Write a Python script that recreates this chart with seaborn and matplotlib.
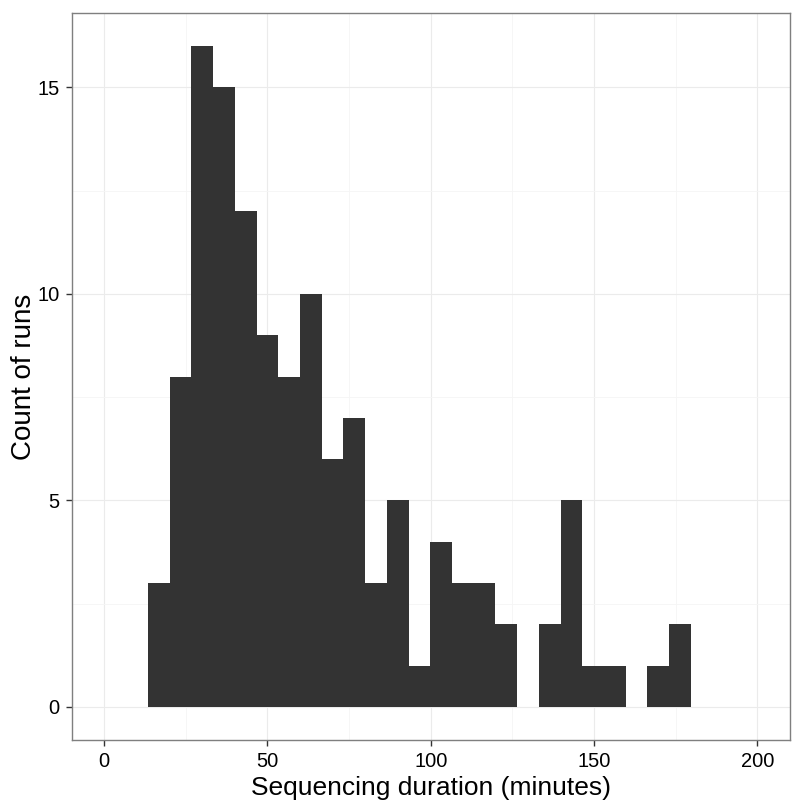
import numpy as np
import pandas as pd
import matplotlib
matplotlib.use("Agg")
import matplotlib.pyplot as plt
import seaborn as sns
from matplotlib.ticker import MultipleLocator

# Data
bin_start = 13.4          # minutes, left edge of the first bin
bin_width = 6.65          # minutes
counts = [3, 8, 16, 15, 12, 9, 8, 10, 6, 7, 3, 5, 1, 4, 3, 3, 2, 0, 2, 5, 1, 1, 0, 1, 2]
x_ticks = [0, 50, 100, 150, 200]
y_ticks = [0, 5, 10, 15]
x_label = "Sequencing duration (minutes)"
y_label = "Count of runs"

edges = [float(e) for e in bin_start + bin_width * np.arange(len(counts) + 1)]
centers = [(a + b) / 2 for a, b in zip(edges[:-1], edges[1:])]
df = pd.DataFrame({"duration": centers, "runs": counts})

sns.set_theme(style="white")
plt.rcParams["font.family"] = ["Liberation Sans", "DejaVu Sans"]

fig = plt.figure(figsize=(8, 8.05), dpi=100)
ax = fig.add_axes([71.5 / 800, 65 / 805, (790 - 71.5) / 800, (740 - 13) / 805])

sns.histplot(data=df, x="duration", weights="runs", bins=edges, ax=ax,
             color="#333333", alpha=1, linewidth=0, edgecolor="none", zorder=3)

ax.set_xlim(-10, 210)
ax.set_ylim(-0.8, 16.8)
ax.set_xticks(x_ticks)
ax.set_yticks(y_ticks)
ax.xaxis.set_minor_locator(MultipleLocator(25))
ax.yaxis.set_minor_locator(MultipleLocator(2.5))
ax.grid(which="major", color="#EBEBEB", linewidth=0.8, zorder=0)
ax.grid(which="minor", color="#F5F5F5", linewidth=0.6, zorder=0)
ax.set_axisbelow(True)

for s in ax.spines.values():
    s.set_color("#7F7F7F")
    s.set_linewidth(1.0)

ax.tick_params(which="major", length=4.5, width=1.0, color="#333333",
               labelsize=14.5, labelcolor="black", pad=4, direction="out",
               bottom=True, left=True)
ax.tick_params(which="minor", length=0)

ax.set_xlabel(x_label, fontsize=19, color="black", labelpad=3.5)
ax.set_ylabel(y_label, fontsize=20, color="black", labelpad=0.5)

fig.savefig("out.png", dpi=100, facecolor="white")
